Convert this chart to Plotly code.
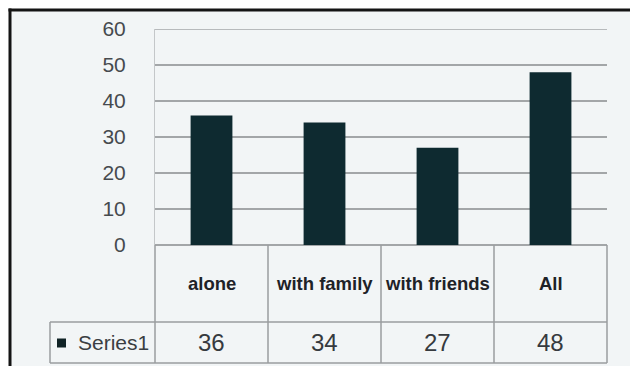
import plotly.graph_objects as go

# Data
categories = ["alone", "with family", "with friends", "All"]
series_name = "Series1"
values = [36, 34, 27, 48]
y_ticks = [0, 10, 20, 30, 40, 50, 60]
y_max = 60

# Canvas and plot-area geometry (pixels)
W, H = 630, 366
L, R, T, B = 155, 23, 29, 121
PW, PH = W - L - R, H - T - B

BG = "#f2f5f6"
BAR = "#0e2a30"
GRID = "#a3a6a8"
FONT = "Liberation Sans, Arial, sans-serif"


def px_x(x):
    return (x - L) / PW


def px_y(y):
    return (H - B - y) / PH


fig = go.Figure(
    go.Bar(
        x=categories,
        y=values,
        name=series_name,
        marker=dict(color=BAR, line=dict(width=0)),
        width=0.37,
        showlegend=False,
    )
)

shapes = []

# Background panel and the dark frame along the top and left edges
shapes.append(dict(type="rect", xref="paper", yref="paper", layer="below",
                   x0=px_x(10), x1=px_x(W + 5), y0=px_y(H + 5), y1=px_y(10),
                   fillcolor=BG, line=dict(width=0)))
shapes.append(dict(type="line", xref="paper", yref="paper",
                   x0=px_x(8.5), x1=px_x(W + 5), y0=px_y(10), y1=px_y(10),
                   line=dict(color="#141414", width=3)))
shapes.append(dict(type="line", xref="paper", yref="paper",
                   x0=px_x(10), x1=px_x(10), y0=px_y(8.5), y1=px_y(H + 5),
                   line=dict(color="#141414", width=3)))

# Gridline at the top of the value range (plotly skips the edge one)
shapes.append(dict(type="line", xref="paper", yref="y", layer="below",
                   x0=0, x1=1, y0=y_max, y1=y_max,
                   line=dict(color=GRID, width=1.5)))

# Data table under the axis
n = len(categories)
row_top, row_mid, row_bot = 245, 322, 363
label_left = 50
tline = dict(color="#9a9d9f", width=1.5)

for i in range(n + 1):
    shapes.append(dict(type="line", xref="paper", yref="paper",
                       x0=i / n, x1=i / n, y0=px_y(row_bot), y1=px_y(row_top),
                       line=tline))
shapes.append(dict(type="line", xref="paper", yref="paper",
                   x0=px_x(label_left), x1=px_x(label_left),
                   y0=px_y(row_bot), y1=px_y(row_mid), line=tline))
for yy in (row_mid, row_bot):
    shapes.append(dict(type="line", xref="paper", yref="paper",
                       x0=px_x(label_left), x1=1, y0=px_y(yy), y1=px_y(yy),
                       line=tline))

# Legend key square in the row header
key_y = (row_mid + row_bot) / 2
shapes.append(dict(type="rect", xref="paper", yref="paper",
                   x0=px_x(57), x1=px_x(66), y0=px_y(key_y + 5), y1=px_y(key_y - 4),
                   fillcolor="#102326", line=dict(width=0)))

annotations = []
for cat, val in zip(categories, values):
    annotations.append(dict(x=cat, xref="x", yref="paper",
                            y=px_y((row_top + row_mid) / 2),
                            text="<b>%s</b>" % cat, showarrow=False,
                            font=dict(family=FONT, size=18.5, color="#1e2227"),
                            xanchor="center", yanchor="middle"))
    annotations.append(dict(x=cat, xref="x", yref="paper",
                            y=px_y((row_mid + row_bot) / 2),
                            text=str(val), showarrow=False,
                            font=dict(family=FONT, size=24, color="#363a3e"),
                            xanchor="center", yanchor="middle"))

annotations.append(dict(x=px_x(76), xref="paper", yref="paper",
                        y=px_y(key_y),
                        text=series_name,
                        showarrow=False, xanchor="left", yanchor="middle",
                        font=dict(family=FONT, size=21, color="#3a3e42")))

fig.update_layout(
    width=W, height=H,
    margin=dict(l=L, r=R, t=T, b=B, pad=0),
    paper_bgcolor="white",
    plot_bgcolor="rgba(0,0,0,0)",
    shapes=shapes,
    annotations=annotations,
    xaxis=dict(showticklabels=False, showgrid=False, zeroline=False,
               showline=False, ticks="", range=[-0.5, n - 0.5]),
    yaxis=dict(range=[0, y_max], tickvals=y_ticks, showgrid=True,
               gridcolor=GRID, gridwidth=1.5, zeroline=True,
               zerolinecolor=GRID, zerolinewidth=1.5,
               showline=True, linecolor="#c4c7c9", linewidth=1,
               ticks="outside", ticklen=24, tickcolor="rgba(0,0,0,0)",
               tickfont=dict(family=FONT, size=21, color="#464a4e")),
)

fig.write_html("out.html")
